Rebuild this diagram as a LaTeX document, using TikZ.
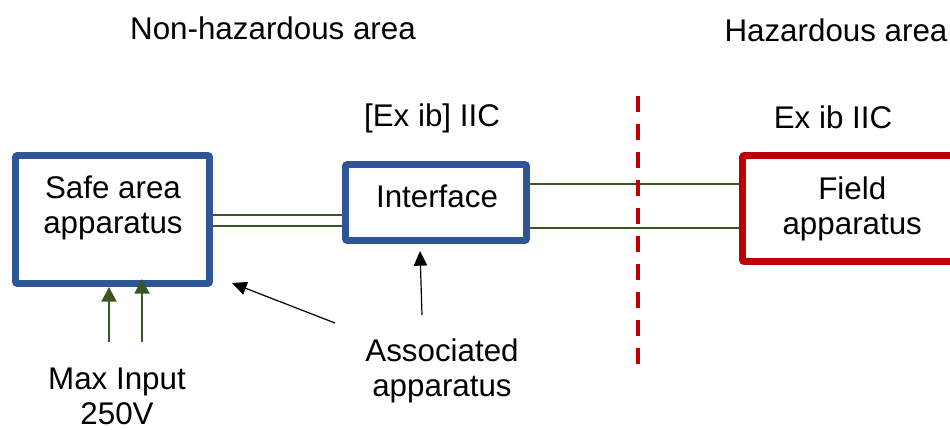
\documentclass[tikz,border=0pt]{standalone}
\usepackage{fontspec}
\setmainfont{Liberation Sans}
\usetikzlibrary{arrows.meta}
\definecolor{boxblue}{HTML}{2F5597}
\definecolor{exred}{HTML}{C00000}
\definecolor{wiregreen}{HTML}{385723}
\tikzset{
  lbl/.style={font=\fontsize{23.5}{26.3}\selectfont, align=center, inner sep=0pt},
  unit/.style={draw=boxblue, line width=5.2pt, rounded corners=1.5pt, fill=white,
    lbl},
  fieldunit/.style={unit, draw=exred},
  wire/.style={draw=wiregreen, line width=1.5pt},
  feed/.style={wire, line width=2.2pt, -{Triangle[length=11pt,width=11pt]}},
  pointer/.style={draw=black, line width=0.9pt, -{Triangle[length=11pt,width=10pt]}},
}
\begin{document}
\begin{tikzpicture}[x=0.75pt,y=-0.75pt]
    \useasboundingbox (0,0) rectangle (950,429);
    \clip (0,0) rectangle (950,429);
    % area titles
    \node[lbl] (nonhaz) at (273,28) {Non-hazardous area};
    \node[lbl] (haz) at (836,30) {Hazardous area};
    \node[lbl] (ifacecode) at (432,118) {[Ex ib] IIC};
    \node[lbl] (fieldcode) at (833,117) {Ex ib IIC};
    % apparatus
    \node[unit, minimum width=145.5pt, minimum height=96pt] (safe) at (112.5,219.5) {};
    \node[lbl] (safetxt) at (113,208) {Safe area\\apparatus};
    \node[unit, minimum width=135.75pt, minimum height=57pt] (iface) at (436,202.5) {};
    \node[lbl] (ifacetxt) at (437,196) {Interface};
    \node[fieldunit, minimum width=164.6pt, minimum height=79.5pt] (field) at (852.25,208.5) {Field\\apparatus};
    % wiring
    \coordinate (w1) at (0,215);
    \coordinate (w2) at (0,226);
    \coordinate (w3) at (0,184);
    \coordinate (w4) at (0,228);
    \draw[wire] (safe.east |- w1) -- (iface.west |- w1);
    \draw[wire] (safe.east |- w2) -- (iface.west |- w2);
    \draw[wire] (iface.east |- w3) -- (field.west |- w3);
    \draw[wire] (iface.east |- w4) -- (field.west |- w4);
    % zone boundary
    \draw[exred, line width=3pt, dash pattern=on 12pt off 9pt] (638,96) -- (638,365);
    % supply
    \node[lbl] (maxin) at (117,396) {Max Input\\250V};
    \coordinate (in1) at (109,342);
    \coordinate (in2) at (142,342);
    \draw[feed] (in1) -- (in1 |- safe.south);
    \draw[feed] (in2) -- ([yshift=6pt]in2 |- safe.south);
    % associated apparatus
    \node[lbl] (assoc) at (442,371) {Associated\\apparatus};
    \coordinate (as1) at (335,323);
    \coordinate (as2) at (422,315);
    \coordinate (tip1) at (232,283);
    \coordinate (tip2) at (420,251);
    \draw[pointer] (as1) -- (tip1);
    \draw[pointer] (as2) -- (tip2);
\end{tikzpicture}
\end{document}
